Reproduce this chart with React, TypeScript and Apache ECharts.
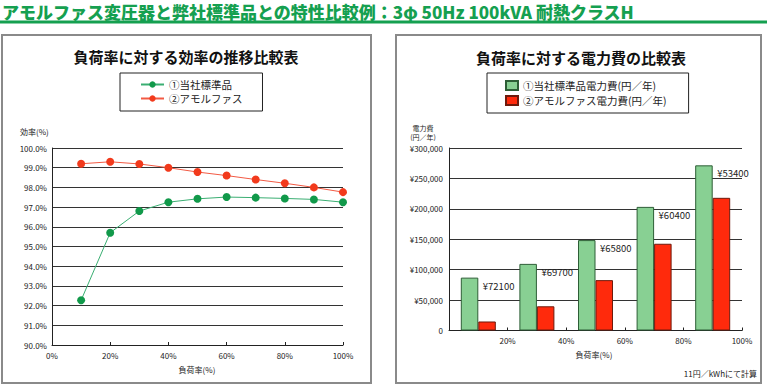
import React, { useEffect, useRef } from "react";
import * as echarts from "echarts";

const FONT = "'Noto Sans CJK JP', 'Noto Sans', sans-serif";

// Left chart: efficiency vs load rate
const loadRates = [10, 20, 30, 40, 50, 60, 70, 80, 90, 100];
const stdEfficiency = [92.27, 95.7, 96.8, 97.25, 97.42, 97.51, 97.48, 97.44, 97.39, 97.25];
const amoEfficiency = [99.2, 99.3, 99.19, 99.0, 98.78, 98.6, 98.4, 98.21, 98.0, 97.76];

// Right chart: yearly electricity cost
const costLoadRates = [10, 30, 50, 70, 90];
const stdCost = [86900, 109500, 148600, 203200, 271500];
const amoCost = [14800, 39800, 82800, 142600, 218100];
const savings = [72100, 69700, 65800, 60400, 53400];

const seriesNames = ["①当社標準品", "②アモルファス"];
const costNames = ["①当社標準品電力費(円／年)", "②アモルファス電力費(円／年)"];

export default function App() {
  const ref = useRef<HTMLDivElement>(null);
  useEffect(() => {
    document.body.style.margin = "0";
    const chart = echarts.init(ref.current!, null, { renderer: "svg" });
    const txt = (text: string, x: number, y: number, size: number, extra: any = {}) => ({
      type: "text",
      x,
      y,
      silent: true,
      style: {
        text,
        fontSize: size,
        fontFamily: FONT,
        fill: "#222",
        align: extra.align || "left",
        textAlign: extra.align || "left",
        verticalAlign: "middle",
        textVerticalAlign: "middle",
        fontWeight: extra.fontWeight || "normal",
        ...(extra.fill ? { fill: extra.fill } : {}),
      },
    });
    const option: any = {
      animation: false,
      textStyle: { fontFamily: FONT },
      graphic: [
        txt("アモルファス変圧器と弊社標準品との特性比較例：3φ 50Hz 100kVA 耐熱クラスH", 2, 11, 17, {
          fontWeight: 900,
          fill: "#15a050",
        }),
        { type: "rect", shape: { x: 0, y: 20.5, width: 767, height: 3 }, style: { fill: "#15a050" }, silent: true },
        { type: "rect", shape: { x: 2, y: 35, width: 369, height: 348 }, style: { fill: "none", stroke: "#8a8a8a", lineWidth: 2 }, silent: true },
        { type: "rect", shape: { x: 396, y: 35, width: 365, height: 348 }, style: { fill: "none", stroke: "#8a8a8a", lineWidth: 2 }, silent: true },
        txt("負荷率に対する効率の推移比較表", 186, 56, 15, { align: "center", fontWeight: "bold", fill: "#111" }),
        txt("負荷率に対する電力費の比較表", 581, 57, 15, { align: "center", fontWeight: "bold", fill: "#111" }),
        txt("効率(%)", 20, 131, 8),
        txt("負荷率(%)", 197, 369, 8, { align: "center" }),
        txt("電力費", 423, 127.5, 7, { align: "center" }),
        txt("(円／年)", 423, 137, 7, { align: "center" }),
        txt("負荷率(%)", 594, 354, 8, { align: "center" }),
        txt("11円／kWhにて計算", 757, 373, 8, { align: "right" }),
      ],
      legend: [
        {
          data: seriesNames,
          orient: "vertical",
          left: 120,
          top: 73,
          padding: [6, 20, 7, 20],
          borderColor: "#222",
          borderWidth: 1,
          itemWidth: 23,
          itemHeight: 8,
          itemGap: 3,
          textStyle: { fontSize: 10.5, lineHeight: 11, color: "#222", fontFamily: FONT },
        },
        {
          data: costNames,
          orient: "vertical",
          left: 487,
          top: 73,
          padding: [7, 22, 7, 18],
          borderColor: "#222",
          borderWidth: 1,
          icon: "rect",
          itemWidth: 12,
          itemHeight: 9,
          itemGap: 4,
          textStyle: { fontSize: 10.5, lineHeight: 11, color: "#222", fontFamily: FONT },
        },
      ],
      grid: [
        { left: 52, top: 148, width: 291, height: 197 },
        { left: 449, top: 148, width: 293, height: 182.5 },
      ],
      xAxis: [
        {
          gridIndex: 0,
          type: "value",
          min: 0,
          max: 100,
          interval: 20,
          axisLine: { show: true, lineStyle: { color: "#222" } },
          axisTick: { show: true, inside: true, length: 3, lineStyle: { color: "#222" } },
          splitLine: { show: false },
          axisLabel: { formatter: "{value}%", fontSize: 8, color: "#222", margin: 6 },
        },
        {
          gridIndex: 1,
          type: "value",
          min: 0,
          max: 100,
          interval: 20,
          axisLine: { show: true, lineStyle: { color: "#222" } },
          axisTick: { show: true, inside: true, length: 3, lineStyle: { color: "#222" } },
          splitLine: { show: false },
          axisLabel: {
            formatter: (v: number) => (v === 0 ? "" : v + "%"),
            fontSize: 8,
            color: "#222",
            margin: 6,
          },
        },
      ],
      yAxis: [
        {
          gridIndex: 0,
          type: "value",
          min: 90,
          max: 100,
          interval: 1,
          axisLine: { show: true, lineStyle: { color: "#222" } },
          axisTick: { show: false },
          splitLine: { show: true, lineStyle: { color: "#333", width: 1 } },
          axisLabel: { formatter: (v: number) => v.toFixed(1) + "%", fontSize: 8, color: "#222", margin: 5 },
        },
        {
          gridIndex: 1,
          type: "value",
          min: 0,
          max: 300000,
          interval: 50000,
          axisLine: { show: true, lineStyle: { color: "#222" } },
          axisTick: { show: false },
          splitLine: { show: true, lineStyle: { color: "#333", width: 1 } },
          axisLabel: {
            formatter: (v: number) => (v === 0 ? "0" : "¥" + v.toLocaleString("en-US")),
            fontSize: 8,
            color: "#222",
            margin: 6,
          },
        },
      ],
      series: [
        {
          name: seriesNames[0],
          type: "line",
          xAxisIndex: 0,
          yAxisIndex: 0,
          data: loadRates.map((x, i) => [x, stdEfficiency[i]]),
          symbol: "circle",
          symbolSize: 8,
          itemStyle: { color: "#11994a" },
          lineStyle: { color: "#3aae72", width: 1 },
        },
        {
          name: seriesNames[1],
          type: "line",
          xAxisIndex: 0,
          yAxisIndex: 0,
          data: loadRates.map((x, i) => [x, amoEfficiency[i]]),
          symbol: "circle",
          symbolSize: 8,
          itemStyle: { color: "#f23a1c" },
          lineStyle: { color: "#f25a44", width: 1 },
        },
        {
          name: costNames[0],
          type: "bar",
          xAxisIndex: 1,
          yAxisIndex: 1,
          data: costLoadRates.map((x, i) => [x, stdCost[i]]),
          barWidth: 17.5,
          barGap: "0%",
          itemStyle: { color: "#88d093", borderColor: "#2d5e36", borderWidth: 1 },
          label: {
            show: true,
            position: [22, 8],
            align: "left",
            verticalAlign: "middle",
            fontSize: 9.5,
            color: "#222",
            formatter: (p: any) => "¥" + savings[p.dataIndex],
          },
        },
        {
          name: costNames[1],
          type: "bar",
          xAxisIndex: 1,
          yAxisIndex: 1,
          data: costLoadRates.map((x, i) => [x, amoCost[i]]),
          barWidth: 17.5,
          barGap: "0%",
          itemStyle: { color: "#ff2a0c", borderColor: "#6e1a0c", borderWidth: 1 },
        },
      ],
    };
    chart.setOption(option);
    return () => chart.dispose();
  }, []);
  return <div ref={ref} style={{ width: 769, height: 385, background: "#fff" }} />;
}
